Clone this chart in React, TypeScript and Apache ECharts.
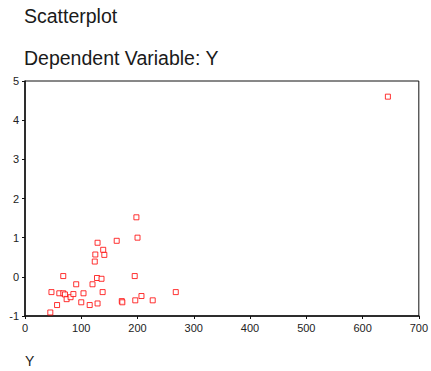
import React, { useEffect, useRef } from "react";
import * as echarts from "echarts";

const xValues = [198, 200, 163, 129, 139, 141, 125, 124, 68, 195, 128, 136, 91, 120, 47, 61, 68, 71, 74, 81, 86, 104, 138, 268, 207, 196, 227, 172, 173, 100, 129, 57, 115, 45, 645];
const yValues = [1.52, 1.0, 0.92, 0.87, 0.69, 0.56, 0.57, 0.39, 0.02, 0.02, -0.03, -0.05, -0.19, -0.19, -0.39, -0.42, -0.42, -0.45, -0.57, -0.52, -0.44, -0.42, -0.39, -0.39, -0.49, -0.6, -0.6, -0.62, -0.65, -0.65, -0.68, -0.72, -0.72, -0.91, 4.6];
const xTicks = { min: 0, max: 700, interval: 100 };
const yTicks = { min: -1, max: 5, interval: 1 };

export default function App() {
  const ref = useRef<HTMLDivElement>(null);
  useEffect(() => {
    if (!ref.current) return;
    const chart = echarts.init(ref.current, null, { renderer: "svg" });
    const font = "Liberation Sans, Arial, sans-serif";
    chart.setOption({
      animation: false,
      backgroundColor: "#fff",
      textStyle: { fontFamily: font },
      graphic: [
        { type: "text", left: 24, top: 6, style: { text: "Scatterplot", font: `19.5px ${font}`, fill: "#1a1a1a" } },
        { type: "text", left: 24, top: 48, style: { text: "Dependent Variable: Y", font: `19.5px ${font}`, fill: "#1a1a1a" } },
        { type: "text", left: 25, top: 354, style: { text: "Y", font: `14px ${font}`, fill: "#1a1a1a" } },
      ],
      grid: { left: 25, top: 81, right: 9, bottom: 55, show: true, borderColor: "#111", borderWidth: 1, backgroundColor: "transparent" },
      xAxis: {
        type: "value",
        min: xTicks.min,
        max: xTicks.max,
        interval: xTicks.interval,
        axisLine: { show: true, onZero: false, lineStyle: { color: "#111", width: 1.5 } },
        axisTick: { show: true, length: 3, lineStyle: { color: "#111" } },
        axisLabel: { color: "#222", fontSize: 11, fontFamily: font, margin: 6 },
        splitLine: { show: false },
      },
      yAxis: {
        type: "value",
        min: yTicks.min,
        max: yTicks.max,
        interval: yTicks.interval,
        axisLine: { show: true, onZero: false, lineStyle: { color: "#111", width: 1.5 } },
        axisTick: { show: true, length: 3, lineStyle: { color: "#111" } },
        axisLabel: { color: "#222", fontSize: 11, fontFamily: font, margin: 6 },
        splitLine: { show: false },
      },
      series: [
        {
          type: "scatter",
          data: xValues.map((x, i) => [x, yValues[i]]),
          symbol: "rect",
          symbolSize: 5,
          itemStyle: { color: "#fff", borderColor: "#ff0000", borderWidth: 1 },
        },
      ],
    });
    return () => chart.dispose();
  }, []);
  return <div ref={ref} style={{ width: 431, height: 371, position: "absolute", left: 0, top: 0 }} />;
}
